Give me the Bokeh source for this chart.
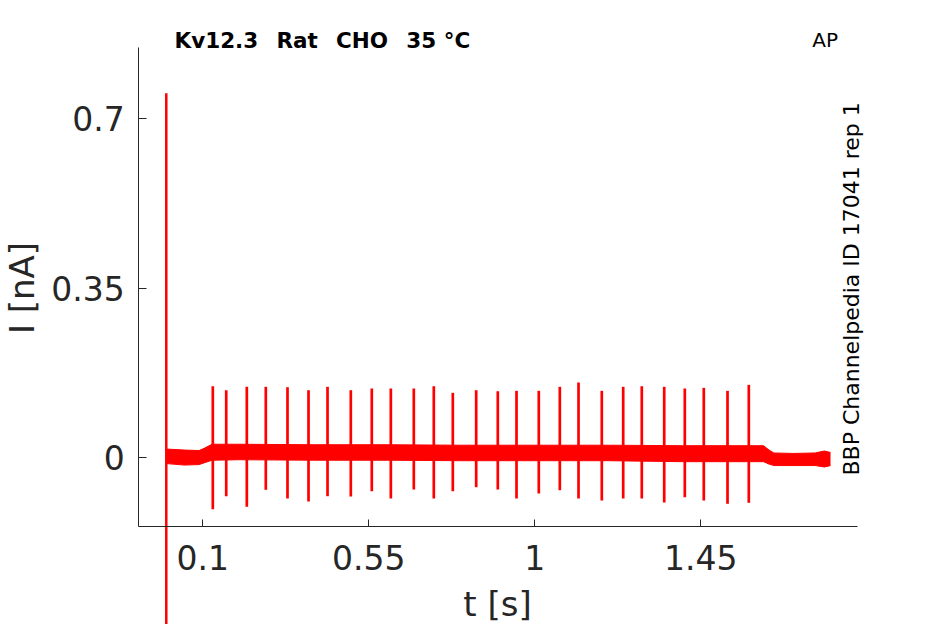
import math
from bokeh.plotting import figure
from bokeh.models import Label, ColumnDataSource, FixedTicker, Range1d
from bokeh.embed import file_html
from bokeh.resources import INLINE

# ---- data ----
# AP-evoked spikes: time (s), peak current (nA), trough current (nA)
spike_t = [0.1271, 0.1635, 0.2193, 0.2708, 0.3296, 0.3866, 0.4381, 0.5012, 0.5581,
           0.6097, 0.6720, 0.7262, 0.7777, 0.8411, 0.8997, 0.9504, 1.0108, 1.0678,
           1.1185, 1.1816, 1.2396, 1.2900, 1.3508, 1.4066, 1.4581, 1.5224, 1.5801]
spike_peak = [0.1478, 0.1396, 0.1466, 0.1466, 0.1458, 0.1396, 0.1466, 0.1396, 0.1431,
              0.1431, 0.1431, 0.1478, 0.1342, 0.1396, 0.1375, 0.1383, 0.1383, 0.1466,
              0.1555, 0.1383, 0.1466, 0.1478, 0.1466, 0.1431, 0.1445, 0.1383, 0.1507]
spike_trough = [-0.1061, -0.0793, -0.1012, -0.0661, -0.0840, -0.0902, -0.0793, -0.0799, -0.0690,
                -0.0840, -0.0655, -0.0840, -0.0690, -0.0607, -0.0655, -0.0840, -0.0737, -0.0669,
                -0.0840, -0.0882, -0.0840, -0.0840, -0.0923, -0.0814, -0.0882, -0.0950, -0.0929]

# noisy baseline envelope: time (s), upper and lower current (nA)
band_t = [0.003, 0.050, 0.090, 0.105, 0.125, 0.200, 0.400, 0.600, 0.800, 1.000,
          1.200, 1.400, 1.600, 1.620, 1.635, 1.648, 1.700, 1.760, 1.785, 1.8016]
band_hi = [0.018, 0.016, 0.015, 0.020, 0.028, 0.028, 0.027, 0.027, 0.026, 0.026,
           0.026, 0.025, 0.025, 0.025, 0.016, 0.010, 0.009, 0.010, 0.014, 0.011]
band_lo = [-0.012, -0.015, -0.014, -0.010, -0.005, -0.004, -0.005, -0.005, -0.006, -0.006,
           -0.006, -0.008, -0.008, -0.008, -0.013, -0.016, -0.016, -0.016, -0.019, -0.016]

# capacitive transient at stimulus onset
transient_t = [0.001]
transient_top = [0.753]
transient_bottom = [-0.45]

x_ticks = [0.1, 0.55, 1, 1.45]
x_tick_labels = ["0.1", "0.55", "1", "1.45"]
y_ticks = [0, 0.35, 0.7]
y_tick_labels = ["0", "0.35", "0.7"]

GAP = "\u2002 "  # wide word gap as in the original title
title_text = "Kv12.3" + GAP + "Rat" + GAP + "CHO" + GAP + "35 °C"
protocol_text = "AP"
source_text = "BBP Channelpedia ID 17041 rep 1"
x_label = "t [s]"
y_label = "I [nA]"

# ---- figure ----
# axes box limits (data) and the full canvas extent (data)
AX_X0, AX_X1 = -0.0735, 1.874
AX_Y0, AX_Y1 = -0.1419, 0.8472
CAN_X0, CAN_X1 = -0.4484, 2.1133
CAN_Y0, CAN_Y1 = -0.3442, 0.9443
AX = "#262626"
RED = "#ff0000"
FONT = "DejaVu Sans"
H = 624

p = figure(width=945, height=624, output_backend="svg", toolbar_location=None,
           x_range=Range1d(CAN_X0, CAN_X1), y_range=Range1d(CAN_Y0, CAN_Y1),
           min_border=0, tools="")
p.outline_line_color = None
p.grid.visible = False
p.background_fill_color = "white"
p.border_fill_color = "white"

band_src = ColumnDataSource(dict(t=band_t, hi=band_hi, lo=band_lo))
p.varea(x="t", y1="lo", y2="hi", source=band_src, fill_color=RED, fill_alpha=1.0)
p.line(x="t", y="hi", source=band_src, line_color=RED, line_width=1)
p.line(x="t", y="lo", source=band_src, line_color=RED, line_width=1)

spike_src = ColumnDataSource(dict(t=spike_t, pk=spike_peak, tr=spike_trough))
p.segment(x0="t", y0="tr", x1="t", y1="pk", source=spike_src, line_color=RED, line_width=2.7)

tr_src = ColumnDataSource(dict(t=transient_t, top=transient_top, bot=transient_bottom))
p.segment(x0="t", y0="bot", x1="t", y1="top", source=tr_src, line_color=RED, line_width=2.5)

xa = p.xaxis[0]
xa.fixed_location = AX_Y0
xa.bounds = (AX_X0, AX_X1)
xa.ticker = FixedTicker(ticks=x_ticks)
xa.major_label_overrides = {t: s for t, s in zip(x_ticks, x_tick_labels)}
xa.minor_tick_line_color = None
xa.major_tick_in = 7
xa.major_tick_out = 0
xa.axis_line_color = AX
xa.major_tick_line_color = AX
xa.major_label_text_color = AX
xa.major_label_text_font = FONT
xa.major_label_text_font_size = "33px"
xa.major_label_standoff = 18

ya = p.yaxis[0]
ya.fixed_location = AX_X0
ya.bounds = (AX_Y0, AX_Y1)
ya.ticker = FixedTicker(ticks=y_ticks)
ya.major_label_overrides = {t: s for t, s in zip(y_ticks, y_tick_labels)}
ya.minor_tick_line_color = None
ya.major_tick_in = 8
ya.major_tick_out = 0
ya.axis_line_color = AX
ya.major_tick_line_color = AX
ya.major_label_text_color = AX
ya.major_label_text_font = FONT
ya.major_label_text_font_size = "33px"
ya.major_label_standoff = 14

# texts, anchored at their middle line, in pixels from the canvas' top-left corner
def label(x, y_top, text, size, angle=0.0, align="left", style="normal", color=AX):
    p.add_layout(Label(x=x, y=H - y_top, x_units="screen", y_units="screen", text=text,
                       angle=angle, text_align=align, text_baseline="middle",
                       text_font=FONT, text_font_size=size, text_font_style=style,
                       text_color=color))

label(21.3, 287.5, y_label, "34px", angle=math.pi / 2, align="center")
label(497.0, 603.5, x_label, "34px", align="center")
label(174.0, 39.8, title_text, "21.5px", style="bold", color="black")
label(811.7, 39.9, protocol_text, "20px", color="black")
label(851.0, 475.0, source_text, "22px", angle=math.pi / 2, color="black")

open("out.html", "w").write(file_html(p, INLINE))
